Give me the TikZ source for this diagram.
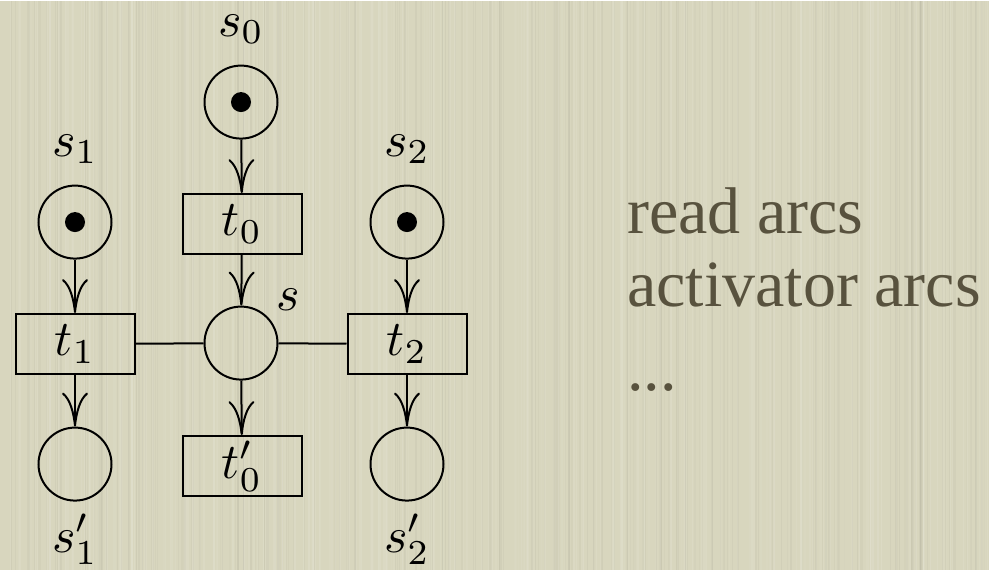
\documentclass[tikz,border=0pt]{standalone}
\usepackage{fontspec}
\usepackage{graphicx}
\newfontfamily\slidefont{Liberation Serif}
\usetikzlibrary{arrows.meta}
\definecolor{paper}{RGB}{216,214,190}
\definecolor{ink}{RGB}{88,82,62}
% math set at 10pt and enlarged
\newcommand\netmath[1]{\scalebox{5}{$#1$}}
\begin{document}
\begin{tikzpicture}[x=1pt,y=-1pt,
  place/.style={circle, draw, line width=2pt, minimum size=73pt, inner sep=0pt},
  transition/.style={rectangle, draw, line width=2pt, minimum width=119pt,
    minimum height=60pt, inner sep=0pt},
  token/.style={circle, fill, minimum size=20pt, inner sep=0pt},
  flow/.style={line width=2pt, -{Computer Modern Rightarrow[length=34pt,width=26pt]}},
  link/.style={line width=2pt},
  tag/.style={inner sep=0pt, anchor=base},
  bullet/.style={font=\slidefont\fontsize{66}{72}\selectfont, text=ink,
    anchor=base west, inner sep=0pt}]

% paper background with faint vertical fibres
\fill[paper] (0,0) rectangle (989,569);
\pgfmathsetseed{4211}
\foreach \i in {1,...,260}{
  \pgfmathsetmacro\fx{rnd*989}
  \pgfmathsetmacro\fw{0.6+1.6*rnd}
  \pgfmathsetmacro\fo{0.03+0.07*rnd}
  \draw[white, opacity=\fo, line width=\fw pt] (\fx,0) -- (\fx,569);
}
\foreach \i in {1,...,200}{
  \pgfmathsetmacro\fx{rnd*989}
  \pgfmathsetmacro\fw{0.6+1.2*rnd}
  \pgfmathsetmacro\fo{0.02+0.04*rnd}
  \draw[black!60!paper, opacity=\fo, line width=\fw pt] (\fx,0) -- (\fx,569);
}
\useasboundingbox (0,0) rectangle (989,569);

% places
\node[place] (s0)  at (241,101) {};
\node[place] (s1)  at (75,221)  {};
\node[place] (s2)  at (407,221) {};
\node[place] (s)   at (241,342) {};
\node[place] (s1p) at (75,463)  {};
\node[place] (s2p) at (407,463) {};

% tokens
\node[token] (k0) at (s0) {};
\node[token] (k1) at (s1) {};
\node[token] (k2) at (s2) {};

% transitions
\node[transition] (t0)  at (242,223) {\netmath{t_0}};
\node[transition] (t1)  at (75,343)  {\netmath{t_1}};
\node[transition] (t2)  at (407,343) {\netmath{t_2}};
\node[transition] (t0p) at (242,465) {\netmath{t'_0}};

% place names
\node[tag] (ls0)  at (241,35)  {\netmath{s_0}};
\node[tag] (ls1)  at (75,155)  {\netmath{s_1}};
\node[tag] (ls2)  at (407,155) {\netmath{s_2}};
\node[tag] (ls)   at (288,309) {\netmath{s}};
\node[tag] (ls1p) at (75,551)  {\netmath{s'_1}};
\node[tag] (ls2p) at (407,551) {\netmath{s'_2}};

% arcs
\draw[flow] (s0) -- (t0);
\draw[flow] (t0) -- (s);
\draw[flow] (s1) -- (t1);
\draw[flow] (t1) -- (s1p);
\draw[flow] (s2) -- (t2);
\draw[flow] (t2) -- (s2p);
\draw[flow] (s) -- (t0p);
\draw[link] (t1) -- (s);
\draw[link] (s) -- (t2);

% side notes
\node[bullet] (n1) at (627,232) {read arcs};
\node[bullet] (n2) at (627,305) {activator arcs};
\node[bullet] (n3) at (627,389) {...};
\end{tikzpicture}
\end{document}
